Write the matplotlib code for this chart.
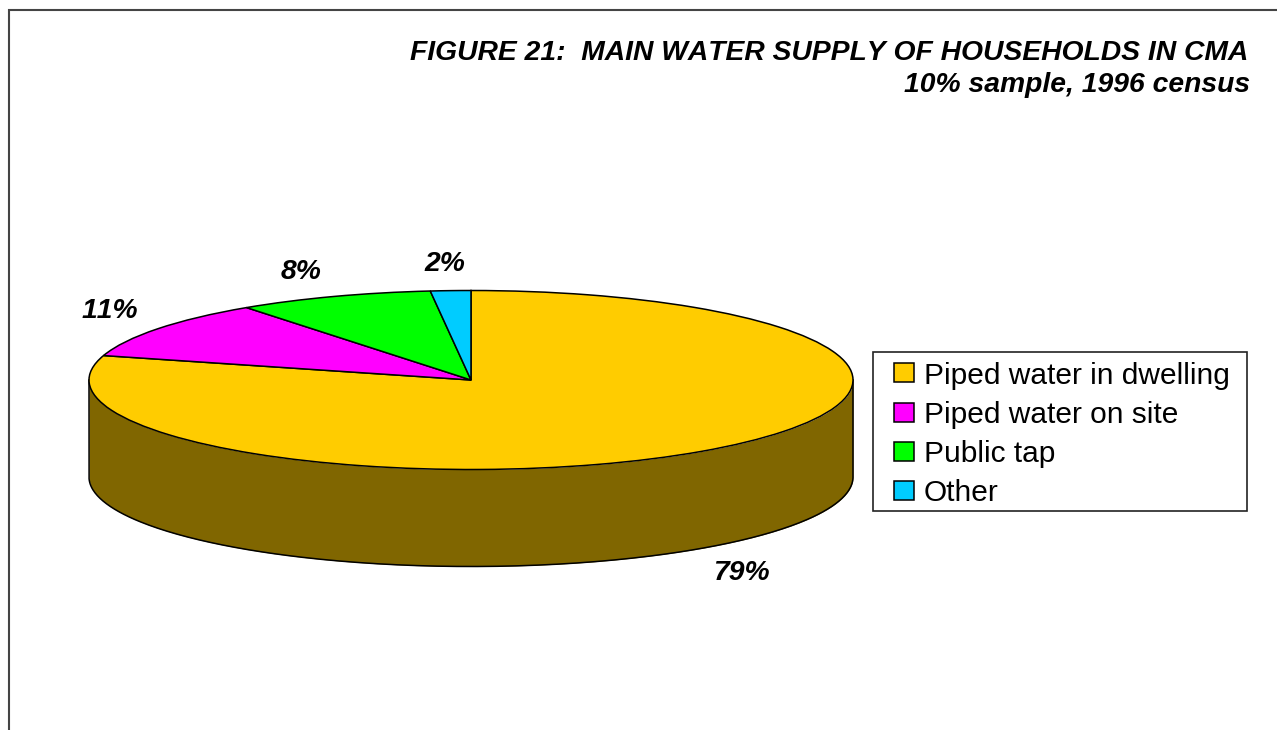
import numpy as np
import matplotlib
matplotlib.use('Agg')
import matplotlib.pyplot as plt
from matplotlib.patches import Rectangle

plt.rcParams['font.family'] = ['Liberation Sans', 'DejaVu Sans']
plt.rcParams['text.kerning_factor'] = 6

W, H = 1277, 730

# shares, the printed labels are the rounded ones
categories = ['Piped water in dwelling', 'Piped water on site', 'Public tap', 'Other']
shares = [79.4, 10.6, 8.3, 1.7]
colours = ['#FFCC00', '#FF00FF', '#00FF00', '#00CCFF']
side_colour = '#806600'
title = 'FIGURE 21:  MAIN WATER SUPPLY OF HOUSEHOLDS IN CMA'
subtitle = '10% sample, 1996 census'

# pie geometry in pixels of the figure
cx, cy, rx, ry, depth = 471, 380, 382, 89.5, 97
label_pos = [(741, 573), (110, 311), (301, 272), (445, 264)]


def draw_page(fig):
    # whole figure axes in pixel units, for frame and texts
    bg = fig.add_axes([0, 0, 1, 1])
    bg.set_xlim(0, W)
    bg.set_ylim(H, 0)
    bg.axis('off')
    bg.plot([9, 9, W], [H, 10, 10], color='#444444', lw=1.5, solid_joinstyle='miter')
    bg.text(1248, 53, title, ha='right', va='center', fontsize=20.35,
            fontweight='bold', fontstyle='italic')
    bg.text(1250, 85, subtitle, ha='right', va='center', fontsize=20.35,
            fontweight='bold', fontstyle='italic')
    bg.add_patch(Rectangle((873, 352), 374, 159, facecolor='white',
                           edgecolor='#222222', lw=1.2, zorder=2))
    return bg


def draw_pie(fig):
    ax = fig.add_axes([(cx - rx) / W, (H - cy - ry) / H, 2 * rx / W, 2 * ry / H])
    wedges, _ = ax.pie(shares, colors=colours, startangle=90, counterclock=False,
                       radius=1, wedgeprops={'edgecolor': 'black', 'linewidth': 1.1})
    ax.set_aspect('auto')
    ax.set_xlim(-1, 1)
    ax.set_ylim(-1, 1)
    for w in wedges:
        w.set_zorder(3)

    # rim of the disc, only the front half can be seen
    d = depth / ry
    x = -np.cos(np.linspace(0, np.pi, 300))
    top = -np.sqrt(np.clip(1 - x**2, 0, 1))
    ax.fill_between(x, top, top - d, color=side_colour, clip_on=False, zorder=1, lw=0)
    ax.plot(np.r_[x[0], x, x[-1]], np.r_[0, top - d, 0], color='black', lw=1.1,
            clip_on=False, zorder=2)
    return wedges


def main():
    fig = plt.figure(figsize=(W / 100, H / 100), dpi=100, facecolor='white')
    bg = draw_page(fig)
    wedges = draw_pie(fig)

    for v, (x, y) in zip(shares, label_pos):
        bg.text(x, y, f'{v:.0f}%', ha='center', va='center', fontsize=20.35,
                fontweight='bold', fontstyle='italic', zorder=5)

    leg = fig.legend(wedges, categories, loc='upper left',
                     bbox_to_anchor=(894 / W, 1 - 361.5 / H), fontsize=21.5,
                     frameon=False, borderaxespad=0, borderpad=0, labelspacing=0.37,
                     handlelength=0.67, handleheight=0.6, handletextpad=0.32)
    for h in leg.legend_handles:
        h.set_edgecolor('black')
        h.set_linewidth(1.1)

    fig.savefig('out.png', dpi=100)


if __name__ == '__main__':
    main()
